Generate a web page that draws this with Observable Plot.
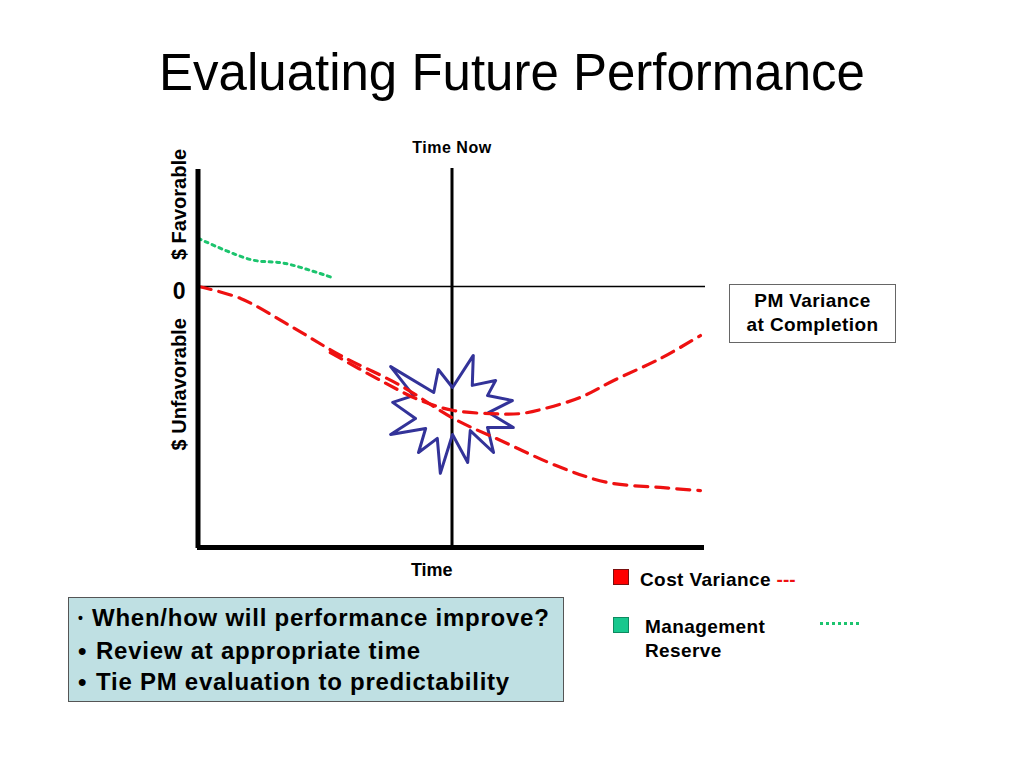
<!DOCTYPE html>
<html>
<head>
<meta charset="utf-8">
<script src="https://cdn.jsdelivr.net/npm/d3@7"></script>
<script src="https://cdn.jsdelivr.net/npm/@observablehq/plot@0.6"></script>
<style>
  html, body { margin: 0; padding: 0; background: #fff; }
  body { width: 1024px; height: 768px; position: relative; overflow: hidden;
         font-family: "Liberation Sans", Arial, Helvetica, sans-serif; }
  .abs { position: absolute; }
  #title { left: 0; top: 40px; width: 1024px; text-align: center; font-size: 51px; line-height: 66px; color: #000; }
  #chart { left: 0; top: 130px; }
  #pmbox { left: 729px; top: 284px; width: 167px; height: 59px; border: 1px solid #666; box-sizing: border-box;
           text-align: center; font-weight: bold; font-size: 19px; letter-spacing: 0.4px; line-height: 24px; padding-top: 4px; }
  .legtext { font-weight: bold; font-size: 19px; letter-spacing: 0.4px; line-height: 24px; }
  .sw { width: 16px; height: 16px; box-sizing: border-box; }
  #notes { left: 68px; top: 597px; width: 496px; height: 105px; background: #bfe0e3; border: 1.5px solid #555;
           box-sizing: border-box; font-weight: bold; font-size: 24px; letter-spacing: 0.75px; line-height: 31.5px; padding: 4px 0 0 9px; }
  #notes .b { display: inline-block; width: 18px; letter-spacing: 0; }
  #notes .bs { font-size: 14px; display: inline-block; width: 14px; vertical-align: 3px; letter-spacing: 0; }
  #mrdots { left: 820px; top: 622px; width: 42px; height: 3px;
            background: repeating-linear-gradient(90deg, #1cc46e 0 3px, transparent 3px 6px); }
</style>
</head>
<body>
<div id="title" class="abs">Evaluating Future Performance</div>
<div id="chart" class="abs"></div>
<div id="pmbox" class="abs">PM Variance<br>at Completion</div>

<div class="abs sw" style="left:613px;top:569px;background:#ff0000;border:1px solid #7a1010;"></div>
<div class="abs legtext" style="left:640px;top:568px;">Cost Variance <span style="color:#ee1111;letter-spacing:0;">---</span></div>
<div class="abs sw" style="left:613px;top:617px;background:#18c88e;border:1px solid #0e8a60;"></div>
<div class="abs legtext" style="left:645px;top:615px;">Management<br>Reserve</div>
<div id="mrdots" class="abs"></div>

<div id="notes" class="abs">
  <div><span class="bs">•</span>When/how will performance improve?</div>
  <div><span class="b">•</span>Review at appropriate time</div>
  <div><span class="b">•</span>Tie PM evaluation to predictability</div>
</div>

<script>
// ---- Data (x = time 0..100, y = $ variance; positive = favorable) ----
const timeNow = 50;
const yTop = 45.2;
const yBottom = -100;

// Management reserve (green dotted)
const reserveX = [0, 10.3, 17.2, 26.4];
const reserveY = [18.4, 10.3, 8.8, 3.4];

// Cost variance: continuing trend (lower red dashed)
const trendX = [0, 8.3, 18.1, 28.0, 39.8, 50.3, 59.6, 71.4, 80.7, 91.1, 99.0];
const trendY = [0, -4.6, -15.1, -26.4, -37.9, -50.6, -59.0, -69.3, -75.1, -77.0, -78.2];

// Cost variance: recovery path (upper red dashed)
const recoverX = [26.0, 35.9, 43.8, 50.3, 57.6, 63.5, 68.4, 75.3, 81.9, 91.1, 99.0];
const recoverY = [-25.3, -36.0, -43.7, -47.5, -48.7, -48.7, -46.7, -42.5, -36.0, -27.6, -18.8];

// Starburst outline around "time now"
const starX = [54.2, 50.1, 47.3, 46.4, 37.9, 42.4, 38.3, 42.8, 37.9, 44.8, 43.4, 47.1, 47.7, 50.1, 53.1, 53.6, 58.2, 57.0, 62.1, 57.2, 61.9, 57.0, 58.6, 54.0];
const starY = [-26.4, -38.7, -31.8, -40.6, -30.7, -41.8, -44.4, -50.6, -56.7, -54.4, -63.6, -58.2, -71.6, -56.7, -67.4, -55.2, -63.6, -54.0, -54.0, -48.3, -43.7, -41.8, -36.0, -37.9];

const yTicks = [0];
const labels = [
  {x: timeNow, y: yTop, text: "Time Now"},
];

const toPts = (xs, ys) => xs.map((x, i) => ({x, y: ys[i]}));
const reserve = toPts(reserveX, reserveY);
const trend = toPts(trendX, trendY);
const recover = toPts(recoverX, recoverY);
const star = toPts(starX, starY);

const chart = Plot.plot({
  width: 1024,
  height: 460,
  marginLeft: 198,
  marginRight: 319,
  marginTop: 38,
  marginBottom: 43,
  x: {domain: [0, 100], axis: null},
  y: {domain: [yBottom, yTop], axis: null},
  style: {fontFamily: '"Liberation Sans", Arial, sans-serif', background: "transparent", overflow: "visible"},
  marks: [
    Plot.axisY({ticks: yTicks, label: null, tickSize: 0, tickPadding: 13, fontSize: 23, fontWeight: "bold", dy: 5, tickFormat: d => String(d), color: "#000"}),
    // zero line
    Plot.ruleY([0], {x1: 0, x2: 100, stroke: "#000", strokeWidth: 1.5}),
    // time now line
    Plot.ruleX([timeNow], {y1: yBottom, y2: yTop, stroke: "#000", strokeWidth: 3}),
    // starburst
    Plot.line(star, {x: "x", y: "y", curve: "linear-closed", stroke: "#333399", strokeWidth: 3, fill: "none"}),
    // management reserve
    Plot.line(reserve, {x: "x", y: "y", stroke: "#1cc46e", strokeWidth: 3, strokeDasharray: "3,4.5", curve: "catmull-rom"}),
    // cost variance lines
    Plot.line(trend, {x: "x", y: "y", stroke: "#ee1111", strokeWidth: 3.2, strokeDasharray: "13,8", curve: "catmull-rom"}),
    Plot.line(recover, {x: "x", y: "y", stroke: "#ee1111", strokeWidth: 3.2, strokeDasharray: "13,8", curve: "catmull-rom"}),
    // axes (thick)
    Plot.ruleX([0], {y1: yBottom, y2: yTop, stroke: "#000", strokeWidth: 5, dy: 1, dx: -0.5}),
    Plot.ruleY([yBottom], {x1: 0, x2: 100, stroke: "#000", strokeWidth: 5, dx: -1}),
    // labels
    Plot.text(labels, {x: "x", y: "y", text: "text", dy: -21, fontSize: 16, fontWeight: "bold", fill: "#000"}),
    Plot.text(["Time"], {x: 46, y: yBottom, text: d => d, dy: 23, fontSize: 18, fontWeight: "bold", fill: "#000"}),
    Plot.text(["$ Favorable"], {x: 0, y: 31.4, text: d => d, rotate: -90, dx: -19, fontSize: 20, fontWeight: "bold", fill: "#000"}),
    Plot.text(["$ Unfavorable"], {x: 0, y: -37.5, text: d => d, rotate: -90, dx: -19, fontSize: 20, fontWeight: "bold", fill: "#000"})
  ]
});
d3.select(chart).selectAll("text").filter(function() { return this.textContent === "Time Now"; }).style("letter-spacing", "0.5px");
document.getElementById("chart").appendChild(chart);
</script>
</body>
</html>
